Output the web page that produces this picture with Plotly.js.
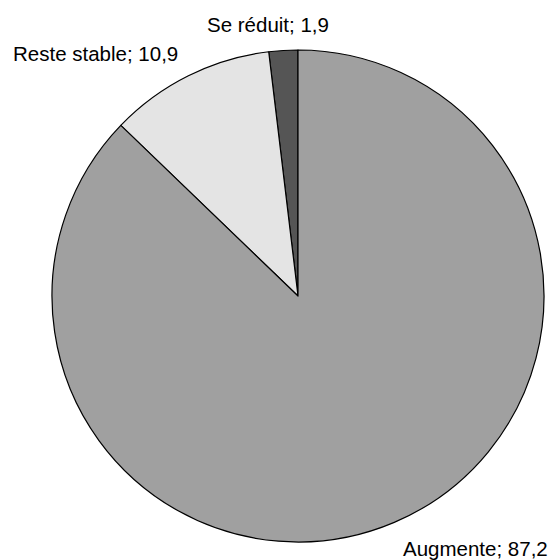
<!DOCTYPE html>
<html>
<head>
<meta charset="utf-8">
<script src="https://cdn.plot.ly/plotly-3.0.1.min.js"></script>
<style>html,body{margin:0;padding:0;background:#fff;}#chart{width:549px;height:560px;}</style>
</head>
<body>
<div id="chart"></div>
<script>
var categories = ["Se réduit", "Reste stable", "Augmente"];
var values = [1.9, 10.9, 87.2];
var colors = ["#555555", "#e4e4e4", "#a0a0a0"];

var W = 549, H = 560;
function fmt(v){ return v.toFixed(1).replace(".", ","); }
var total = values.reduce(function(a, b){ return a + b; }, 0);
var labelPos = [
  {x: 268, y: 25, xanchor: "center"},
  {x: 11, y: 53, xanchor: "left"},
  {x: 401, y: 548, xanchor: "left"}
];
var annotations = categories.map(function(c, i){
  return {
    text: c + "; " + fmt(values[i]),
    xref: "paper", yref: "paper",
    x: labelPos[i].x / W, y: 1 - labelPos[i].y / H,
    xanchor: labelPos[i].xanchor, yanchor: "middle",
    showarrow: false,
    font: {family: "Liberation Sans, Arial, sans-serif", size: 20.5, color: "#000"}
  };
});

var trace = {
  type: "pie",
  labels: categories,
  values: values,
  sort: false,
  direction: "counterclockwise",
  rotation: -360 * values[0] / total,
  textinfo: "none",
  hoverinfo: "label+value",
  marker: {colors: colors, line: {color: "#000", width: 1.2}},
  domain: {x: [52 / W, 544 / W], y: [1 - 542 / H, 1 - 50 / H]}
};

var layout = {
  width: W, height: H,
  margin: {l: 0, r: 0, t: 0, b: 0},
  paper_bgcolor: "#fff",
  showlegend: false,
  annotations: annotations
};
Plotly.newPlot("chart", [trace], layout, {displayModeBar: false, staticPlot: true});
</script>
</body>
</html>
